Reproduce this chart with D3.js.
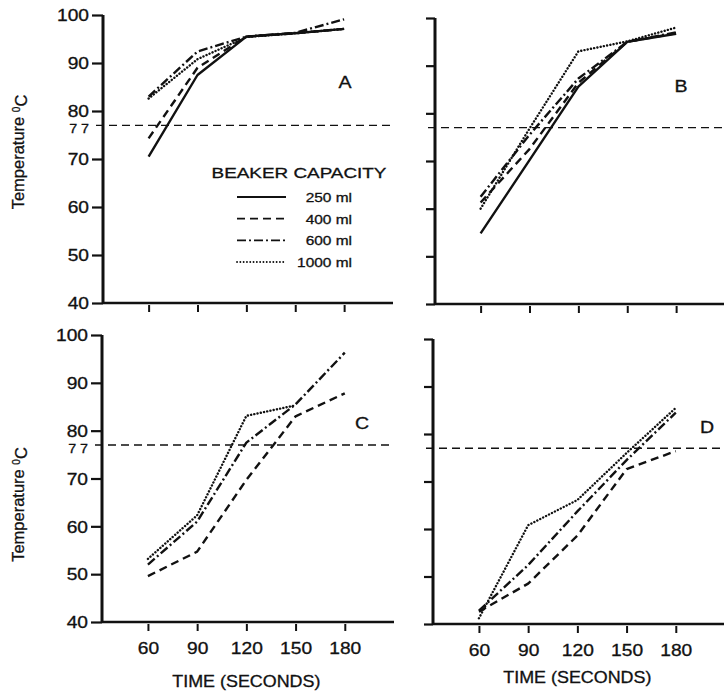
<!DOCTYPE html>
<html>
<head>
<meta charset="utf-8">
<script src="https://cdn.jsdelivr.net/npm/d3@7"></script>
<style>
html,body{margin:0;padding:0;background:#fff;}
svg{display:block;}
text{font-family:"Liberation Sans",Arial,sans-serif;fill:#111;stroke:#111;stroke-width:0.3px;}
</style>
</head>
<body>
<svg id="chart" width="724" height="695"></svg>
<script>
// ---- data ----
const times = [60, 90, 120, 150, 180];
const yTicks = [40, 50, 60, 70, 80, 90, 100];
const boilingPoint = 77;
const capacities = ["250 ml", "400 ml", "600 ml", "1000 ml"];
const panelNames = ["A", "B", "C", "D"];

const panelA_250 = [70.5, 87.5, 95.5, 96.2, 97.1];
const panelA_400 = [74.3, 89.0, 95.5, 96.2, 97.1];
const panelA_600 = [83.0, 92.4, 95.5, 96.3, 99.1];
const panelA_1000 = [82.6, 90.8, 95.4, 96.2, 97.1];

const panelB_250 = [54.8, 70.2, 85.6, 95.0, 96.7];
const panelB_400 = [61.3, 72.5, 86.4, 95.0, 96.8];
const panelB_600 = [62.5, 75.5, 87.3, 95.0, 97.0];
const panelB_1000 = [60.0, 76.8, 93.0, 95.1, 98.0];

const panelC_250 = [null, null, null, null, null];
const panelC_400 = [49.6, 54.7, 69.7, 83.0, 87.8];
const panelC_600 = [52.0, 61.0, 77.5, 85.5, 96.3];
const panelC_1000 = [53.2, 62.3, 83.1, 85.3, null];

const panelD_250 = [null, null, null, null, null];
const panelD_400 = [42.6, 48.5, 58.6, 72.6, 76.4];
const panelD_600 = [42.8, 52.4, 63.7, 74.5, 84.5];
const panelD_1000 = [41.2, 60.8, 66.1, 76.0, 85.5];

const panelSeries = {
  A: [panelA_250, panelA_400, panelA_600, panelA_1000],
  B: [panelB_250, panelB_400, panelB_600, panelB_1000],
  C: [panelC_250, panelC_400, panelC_600, panelC_1000],
  D: [panelD_250, panelD_400, panelD_600, panelD_1000]
};

// ---- layout / styles ----
const layout = {
  A: {x: 103, y: 15, w: 290, h: 288, labels: false, yLabels: true, tag: [345, 88], tickLen: 11},
  B: {x: 435, y: 18, w: 290, h: 286, labels: false, yLabels: false, tag: [681, 92], tickLen: 9},
  C: {x: 102, y: 335, w: 292, h: 287, labels: true, yLabels: true, tag: [362, 429], tickLen: 11},
  D: {x: 433, y: 339, w: 292, h: 285, labels: true, yLabels: false, tag: [707, 433], tickLen: 9}
};
const dashes = ["none", "8,5", "9,3,2,3", "0.1,3.2"];
const SX = 1.2; // horizontal stretch of the lettering in the original print

const svg = d3.select("#chart");

function stretchedText(parent, x, y, str, size, sx, anchor) {
  const g = parent.append("g").attr("transform", `translate(${x},${y}) scale(${sx},1)`);
  return g.append("text").attr("text-anchor", anchor).style("font-size", size + "px").text(str);
}

panelNames.forEach(name => {
  const L = layout[name];
  const g = svg.append("g").attr("transform", `translate(${L.x},${L.y})`);
  const x = d3.scaleLinear().domain([32, 210]).range([0, L.w]);
  const y = d3.scaleLinear().domain([40, 100]).range([L.h, 0]);

  // y axis
  const yAxis = d3.axisLeft(y).tickValues(yTicks).tickSize(L.tickLen)
    .tickFormat(L.yLabels ? (d => d) : (() => ""));
  const ya = g.append("g").call(yAxis);
  ya.select(".domain").attr("d", `M0,0V${L.h}`).attr("stroke", "#111").attr("stroke-width", 3);
  ya.selectAll(".tick line").attr("stroke", "#111").attr("stroke-width", 2.2);
  ya.selectAll(".tick text").attr("x", -(L.tickLen + 3) / SX).attr("dy", "0.36em")
    .attr("transform", `scale(${SX},1)`)
    .style("font-size", "16px").attr("fill", "#111");

  // x axis
  const xAxis = d3.axisBottom(x).tickValues(times).tickSize(7).tickPadding(14)
    .tickFormat(L.labels ? (d => d) : (() => ""));
  const xa = g.append("g").attr("transform", `translate(0,${L.h})`).call(xAxis);
  xa.select(".domain").attr("d", `M0,0H${L.w}`).attr("stroke", "#111").attr("stroke-width", 2.5);
  xa.selectAll(".tick line").attr("stroke", "#111").attr("stroke-width", 2).attr("y1", 2).attr("y2", 9);
  xa.selectAll(".tick text").attr("transform", `scale(${SX},1)`)
    .style("font-size", "16px").attr("fill", "#111");

  // boiling-point reference line
  g.append("line")
    .attr("x1", -7).attr("x2", L.w)
    .attr("y1", y(boilingPoint)).attr("y2", y(boilingPoint))
    .attr("stroke", "#111").attr("stroke-width", 1.4).attr("stroke-dasharray", "8,5");
  if (L.yLabels) {
    stretchedText(g, -14, y(boilingPoint) + 8, String(boilingPoint).split("").join(" "), 13, 1.1, "end");
    g.append("text").attr("transform", `translate(${-L.x + 24},${L.h / 2 + (name === "A" ? -7 : 26)}) rotate(-90)`)
      .attr("text-anchor", "middle").style("font-size", "16.5px")
      .call(t => {
        t.append("tspan").text("Temperature ");
        t.append("tspan").text("0").attr("dy", "-0.45em").style("font-size", "10px");
        t.append("tspan").text("C").attr("dy", "0.45em");
      });
  }

  // series
  const line = d3.line().defined(d => d[1] != null).x(d => x(d[0])).y(d => y(d[1]));
  panelSeries[name].forEach((vals, i) => {
    const pts = times.map((t, k) => [t, vals[k]]);
    if (!pts.some(p => p[1] != null)) return;
    g.append("path").attr("d", line(pts)).attr("fill", "none").attr("stroke", "#111")
      .attr("stroke-width", 2.4).attr("stroke-dasharray", dashes[i])
      .attr("stroke-linecap", i === 3 ? "round" : "butt").attr("stroke-linejoin", "round");
  });

  // panel tag
  stretchedText(svg, L.tag[0], L.tag[1], name, 17, 1.15, "middle");

  if (L.labels) {
    stretchedText(svg, L.x + x(120), name === "C" ? 687 : 683, "TIME (SECONDS)", 16, 1.12, "middle");
  }
});

// legend (inside panel A)
const leg = svg.append("g");
stretchedText(leg, 299, 178, "BEAKER CAPACITY", 15.5, 1.22, "middle");
const legY = d3.scalePoint().domain(capacities).range([197, 262]);
capacities.forEach((c, i) => {
  leg.append("line").attr("x1", 237).attr("x2", 286).attr("y1", legY(c)).attr("y2", legY(c))
    .attr("stroke", "#111").attr("stroke-width", 1.8).attr("stroke-dasharray", dashes[i])
    .attr("stroke-linecap", i === 3 ? "round" : "butt");
  stretchedText(leg, 352, legY(c) + 5, c, 13, 1.19, "end");
});
</script>
</body>
</html>
